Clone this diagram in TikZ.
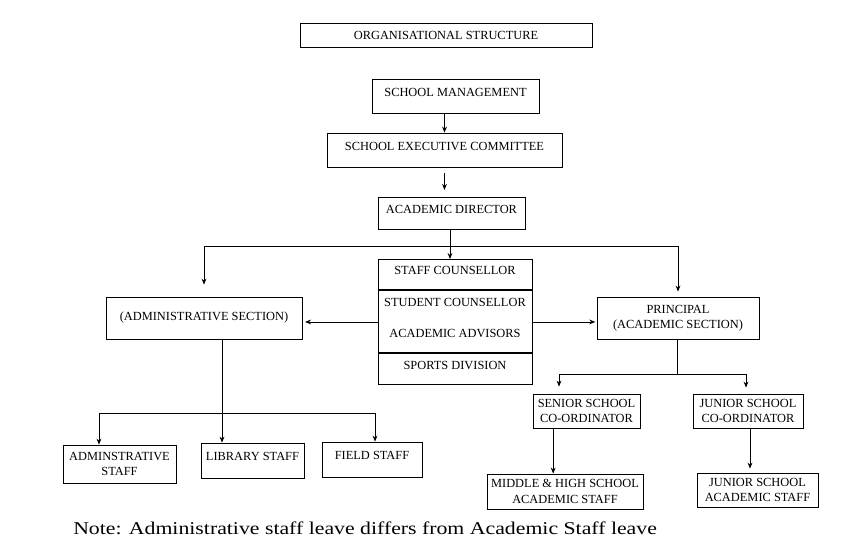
\documentclass[tikz,border=0pt]{standalone}
\usepackage{fontspec}
\setmainfont{Liberation Serif}
\newfontfamily\notefont{Liberation Serif}[FakeStretch=1.21]
\usetikzlibrary{positioning,arrows.meta}
\tikzset{
>={Stealth[length=4.5pt,width=3.6pt]},
  unit/.style={
    rectangle,
    draw=black, line width=0.6pt,
    inner sep=1pt,
    align=center,
    font=\fontsize{9.3}{11.5}\selectfont},
  oneline/.style={text height=6pt, text depth=6pt},
  cell/.style={
    rectangle,
    minimum width=115.5pt,
    minimum height=23.6pt,
    inner sep=1pt, outer sep=0pt,
    text height=6pt, text depth=6pt,
    font=\fontsize{9.3}{11.5}\selectfont},
  link/.style={draw, line width=0.6pt},
  divider/.style={draw, line width=1.5pt},
}
\begin{document}
\begin{tikzpicture}[x=0.75pt, y=-0.75pt]
\useasboundingbox (0,0) rectangle (843,553);
% top of the chart
\node[unit, minimum width=219pt, minimum height=18pt] (title) at (446,35) {ORGANISATIONAL STRUCTURE};
\node[unit, oneline, minimum width=125.25pt, minimum height=25.5pt] (management) at (455.5,96) {SCHOOL MANAGEMENT};
\node[unit, oneline, minimum width=176.25pt, minimum height=25.5pt] (committee) at (444.5,150) {SCHOOL EXECUTIVE COMMITTEE};
\node[unit, oneline, minimum width=110.25pt, minimum height=24pt] (director) at (451.5,213) {ACADEMIC DIRECTOR};
% middle stack
\node[cell] (staffc) at (455,274.75) {STAFF COUNSELLOR};
\node[cell, below=0pt of staffc] (studentc) {STUDENT COUNSELLOR};
\node[cell, below=0pt of studentc] (advisors) {ACADEMIC ADVISORS};
\node[cell, below=0pt of advisors] (sports) {SPORTS DIVISION};
\draw[link] (staffc.north west) rectangle (sports.south east);
\draw[divider] (staffc.south west) -- (staffc.south east);
\draw[divider] (advisors.south west) -- (advisors.south east);
% the two sections
\node[unit, minimum width=147pt, minimum height=31.5pt] (adminsec) at (204,318) {(ADMINISTRATIVE SECTION)};
\node[unit, minimum width=121.5pt, minimum height=31.5pt] (principal) at (678,318) {PRINCIPAL\\(ACADEMIC SECTION)};
% administrative staff
\node[unit, minimum width=84.75pt, minimum height=28.5pt] (adminstaff) at (119.5,464) {ADMINSTRATIVE\\STAFF};
\node[unit, oneline, minimum width=77.25pt, minimum height=26.25pt] (library) at (252.5,460.5) {LIBRARY STAFF};
\node[unit, oneline, minimum width=75pt, minimum height=26.25pt] (field) at (372,459.5) {FIELD STAFF};
% academic staff
\node[unit, minimum width=80.25pt, minimum height=25.5pt] (senior) at (586.5,411) {SENIOR SCHOOL\\CO-ORDINATOR};
\node[unit, minimum width=82.5pt, minimum height=25.5pt] (junior) at (748,411) {JUNIOR SCHOOL\\CO-ORDINATOR};
\node[unit, minimum width=117pt, minimum height=26.25pt] (highstaff) at (565,491.5) {MIDDLE \& HIGH SCHOOL\\ACADEMIC STAFF};
\node[unit, minimum width=90.75pt, minimum height=25.5pt] (juniorstaff) at (757.5,490) {JUNIOR SCHOOL\\ACADEMIC STAFF};
\node[anchor=base west, inner sep=0pt, font=\notefont\fontsize{13.5}{15}\selectfont] (note) at (73,534) {Note: Administrative staff leave differs from Academic Staff leave};
% connectors
\coordinate (fork) at (450,246);
\coordinate (afork) at (222,413);
\coordinate (pfork) at (677,374);
\draw[link, ->] (management.south -| committee.north) -- (committee.north);
\draw[link, ->, shorten <=4.5pt, shorten >=5pt] (committee.south) -- (committee.south |- director.north);
\draw[link, ->] (fork |- director.south) -- (fork |- staffc.north);
\draw[link, ->, shorten >=9pt] (fork) -| (adminsec.north);
\draw[link, ->, shorten >=3.75pt] (fork) -| (principal.north);
\draw[link, ->, shorten >=2pt] (advisors.north west) -- (advisors.north west -| adminsec.east);
\draw[link, ->, shorten >=1pt] (advisors.north east) -- (advisors.north east -| principal.west);
\draw[link] (adminsec.south -| afork) -- (afork);
\draw[link, ->] (afork) -- (afork |- library.north);
\draw[link, ->] (afork) -| ([xshift=-15.4pt]adminstaff.north);
\draw[link, ->] (afork) -| ([xshift=2.25pt]field.north);
\draw[link] (principal.south -| pfork) -- (pfork);
\draw[link, ->, shorten >=5.25pt] (pfork) -| ([xshift=-20.6pt]senior.north);
\draw[link, ->, shorten >=4.5pt] (pfork) -| ([xshift=-1.5pt]junior.north);
\draw[link, ->] ([xshift=-25pt]senior.south) -- ([xshift=-25pt]senior.south |- highstaff.north);
\draw[link, ->, shorten >=3pt] ([xshift=1.5pt]junior.south) -- ([xshift=1.5pt]junior.south |- juniorstaff.north);
\end{tikzpicture}
\end{document}
